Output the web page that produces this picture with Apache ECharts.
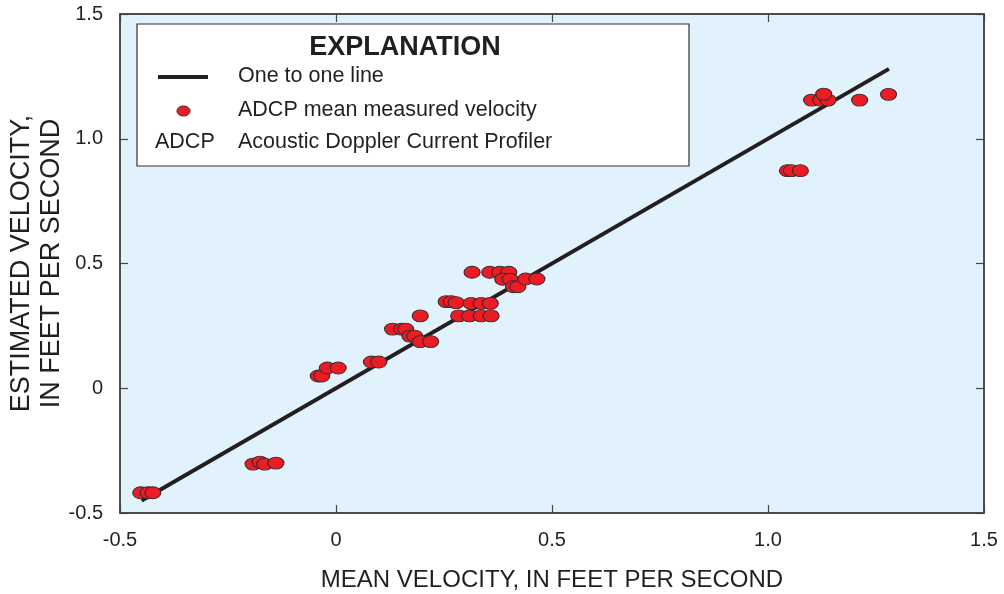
<!DOCTYPE html>
<html>
<head>
<meta charset="utf-8">
<script src="https://cdn.jsdelivr.net/npm/echarts@6/dist/echarts.min.js"></script>
<style>
  html, body { margin: 0; padding: 0; background: #fff; }
  #chart { width: 1004px; height: 594px; }
</style>
</head>
<body>
<div id="chart"></div>
<script>
  // ADCP mean measured velocity (x) vs estimated velocity (y), feet per second
  var meanVelocity = [
    -0.452, -0.435, -0.424,
    -0.192, -0.176, -0.165, -0.139,
    -0.041, -0.033, -0.020, 0.005,
    0.082, 0.099,
    0.131, 0.152, 0.161, 0.171, 0.182,
    0.195, 0.195, 0.219,
    0.255, 0.267, 0.278,
    0.284, 0.309, 0.336, 0.359,
    0.313, 0.336, 0.357,
    0.315, 0.356, 0.379, 0.400,
    0.386, 0.403, 0.411, 0.421, 0.439, 0.465,
    1.045, 1.054, 1.075,
    1.101, 1.122, 1.139, 1.129, 1.212, 1.279
  ]
  var estimatedVelocity = [
    -0.419, -0.419, -0.419,
    -0.304, -0.296, -0.304, -0.300,
    0.049, 0.049, 0.081, 0.081,
    0.105, 0.105,
    0.237, 0.237, 0.237, 0.209, 0.209,
    0.290, 0.187, 0.187,
    0.347, 0.347, 0.343,
    0.290, 0.290, 0.290, 0.290,
    0.340, 0.340, 0.340,
    0.465, 0.465, 0.465, 0.465,
    0.437, 0.437, 0.407, 0.407, 0.438, 0.438,
    0.872, 0.872, 0.872,
    1.155, 1.155, 1.155, 1.179, 1.155, 1.178
  ]
  var oneToOneLine = [-0.45, 1.28]
  var xTicks = [-0.5, 0, 0.5, 1.0, 1.5]
  var yTicks = [-0.5, 0, 0.5, 1.0, 1.5]

  var font = 'Liberation Sans, Arial, sans-serif'
  var ink = '#231f20'

  function tickLabel(v) {
    if (v === 0) return '0'
    return v.toFixed(1)
  }

  var chart = echarts.init(document.getElementById('chart'))

  var axisBase = {
    type: 'value',
    min: -0.5,
    max: 1.5,
    interval: 0.5,
    splitLine: { show: false },
    axisLine: { show: true, onZero: false, lineStyle: { color: '#444', width: 1.5 } },
    axisTick: { show: true, inside: true, length: 8, lineStyle: { color: '#444', width: 1.2 } }
  }

  chart.setOption({
    animation: false,
    grid: {
      left: 120,
      right: 20,
      top: 14,
      bottom: 81,
      containLabel: false,
      outerBoundsMode: 'none',
      show: true,
      backgroundColor: '#e1f2fc',
      borderColor: '#444',
      borderWidth: 1.5
    },
    xAxis: [
      Object.assign({}, axisBase, {
        position: 'bottom',
        name: 'MEAN VELOCITY, IN FEET PER SECOND',
        nameLocation: 'middle',
        nameGap: 55,
        nameMoveOverlap: false,
        nameTextStyle: { fontFamily: font, fontSize: 24, color: ink },
        axisLabel: {
          margin: 17,
          fontFamily: font,
          fontSize: 20,
          color: ink,
          formatter: tickLabel,
          customValues: xTicks
        }
      }),
      Object.assign({}, axisBase, {
        position: 'top',
        axisLabel: { show: false }
      })
    ],
    yAxis: [
      Object.assign({}, axisBase, {
        position: 'left',
        name: 'ESTIMATED VELOCITY,\nIN FEET PER SECOND',
        nameLocation: 'middle',
        nameGap: 53,
        nameMoveOverlap: false,
        nameTextStyle: { fontFamily: font, fontSize: 27, color: ink, lineHeight: 30 },
        axisLabel: {
          margin: 17,
          fontFamily: font,
          fontSize: 20,
          color: ink,
          formatter: tickLabel,
          customValues: yTicks
        }
      }),
      Object.assign({}, axisBase, {
        position: 'right',
        axisLabel: { show: false }
      })
    ],
    series: [
      {
        name: 'One to one line',
        type: 'line',
        data: oneToOneLine.map(function (v) { return [v, v] }),
        showSymbol: false,
        lineStyle: { color: ink, width: 4 },
        z: 2
      },
      {
        name: 'ADCP mean measured velocity',
        type: 'scatter',
        data: meanVelocity.map(function (v, i) { return [v, estimatedVelocity[i]] }),
        symbol: 'circle',
        symbolSize: [16, 12],
        itemStyle: { color: '#ed1c24', borderColor: '#3b2b2b', borderWidth: 1, opacity: 1 },
        z: 3
      }
    ],
    graphic: [
      {
        type: 'rect',
        shape: { x: 137, y: 24, width: 552, height: 142 },
        style: { fill: '#fff', stroke: '#333', lineWidth: 1.2 },
        z: 10
      },
      {
        type: 'text', x: 405, y: 48, z: 11,
        style: { text: 'EXPLANATION', font: 'bold 27px ' + font, fill: ink, textAlign: 'center', textVerticalAlign: 'middle' }
      },
      {
        type: 'line', z: 11,
        shape: { x1: 158, y1: 77, x2: 208, y2: 77 },
        style: { stroke: ink, lineWidth: 4 }
      },
      {
        type: 'text', x: 238, y: 76, z: 11,
        style: { text: 'One to one line', font: '21.5px ' + font, fill: ink, textVerticalAlign: 'middle' }
      },
      {
        type: 'ellipse', z: 11,
        shape: { cx: 183.5, cy: 111, rx: 6.5, ry: 5 },
        style: { fill: '#ed1c24', stroke: '#3b2b2b', lineWidth: 1 }
      },
      {
        type: 'text', x: 238, y: 110, z: 11,
        style: { text: 'ADCP mean measured velocity', font: '21.5px ' + font, fill: ink, textVerticalAlign: 'middle' }
      },
      {
        type: 'text', x: 155, y: 142, z: 11,
        style: { text: 'ADCP', font: '21.5px ' + font, fill: ink, textVerticalAlign: 'middle' }
      },
      {
        type: 'text', x: 238, y: 142, z: 11,
        style: { text: 'Acoustic Doppler Current Profiler', font: '21.5px ' + font, fill: ink, textVerticalAlign: 'middle' }
      }
    ]
  })
</script>
</body>
</html>
